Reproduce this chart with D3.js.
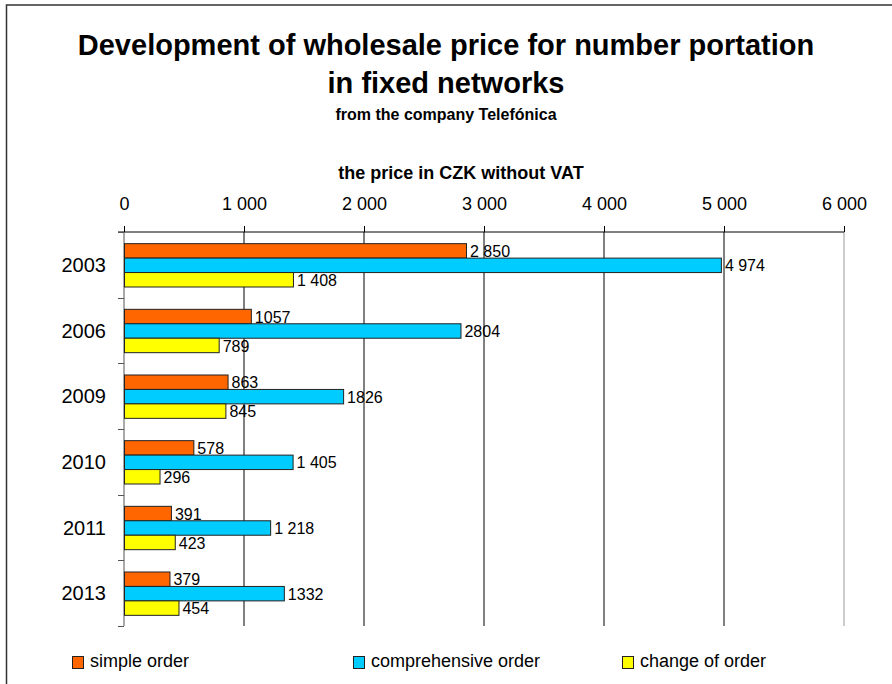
<!DOCTYPE html>
<html>
<head>
<meta charset="utf-8">
<script src="https://cdn.jsdelivr.net/npm/d3@7"></script>
<style>
  body { margin: 0; background: #fff; }
  svg { font-family: Arial, 'Liberation Sans', sans-serif; }
</style>
</head>
<body>
<svg id="chart"></svg>
<script>
//chart data
var years = ['2003', '2006', '2009', '2010', '2011', '2013'];
var seriesNames = ['simple order', 'comprehensive order', 'change of order'];
var simpleOrder = [2850, 1057, 863, 578, 391, 379];
var comprehensiveOrder = [4974, 2804, 1826, 1405, 1218, 1332];
var changeOfOrder = [1408, 789, 845, 296, 423, 454];
//value labels as printed in the picture
var simpleLabels = ['2 850', '1057', '863', '578', '391', '379'];
var comprehensiveLabels = ['4 974', '2804', '1826', '1 405', '1 218', '1332'];
var changeLabels = ['1 408', '789', '845', '296', '423', '454'];
var xTicks = [0, 1000, 2000, 3000, 4000, 5000, 6000];

function priceChart() {
    var svg = d3.select('#chart')
        .attr('width', 892)
        .attr('height', 684);

    var colors = ['#FF6600', '#00CCFF', '#FFFF00'];
    var values = [simpleOrder, comprehensiveOrder, changeOfOrder];
    var labels = [simpleLabels, comprehensiveLabels, changeLabels];

    //outer frame
    svg.append('path')
        .attr('d', 'M6.5,700 L6.5,5 L900,5')
        .attr('fill', 'none')
        .attr('stroke', '#333')
        .attr('stroke-width', 1.5);

    //titles
    var titles = svg.append('g').attr('text-anchor', 'middle').attr('font-weight', 'bold');
    titles.append('text').attr('x', 446).attr('y', 55).attr('font-size', 29)
        .text('Development of wholesale price for number portation');
    titles.append('text').attr('x', 446).attr('y', 93).attr('font-size', 29)
        .text('in fixed networks');
    titles.append('text').attr('x', 446).attr('y', 120).attr('font-size', 16)
        .text('from the company Telefónica');
    titles.append('text').attr('x', 461).attr('y', 179).attr('font-size', 18)
        .text('the price in CZK without VAT');

    var margin = {top: 232, left: 124},
        width = 720,
        height = 394;

    var canvas = svg.append('g')
        .attr('transform', 'translate(' + margin.left + ',' + margin.top + ')');

    var x = d3.scaleLinear().domain([0, 6000]).range([0, width]);
    var y = d3.scaleBand().domain(years).range([0, height])
        .paddingInner(0.34).paddingOuter(0.17);
    var ySub = d3.scaleBand().domain(d3.range(3)).range([0, y.bandwidth()]);

    var locale = d3.formatLocale({decimal: ',', thousands: ' ', grouping: [3], currency: ['', '']});
    var fmt = locale.format(',');

    //gridlines
    canvas.append('g')
        .selectAll('line').data(xTicks.slice(1)).enter().append('line')
            .attr('x1', d => x(d)).attr('x2', d => x(d))
            .attr('y1', 0).attr('y2', height)
            .attr('stroke', d => d === 6000 ? '#999' : '#000')
            .attr('stroke-width', 1);

    //top axis
    var xAxis = canvas.append('g')
        .call(d3.axisTop(x).tickValues(xTicks).tickFormat(fmt).tickSize(6).tickPadding(16));
    xAxis.select('.domain').attr('stroke', '#000').attr('d', 'M-6,0H' + width);
    xAxis.selectAll('text').attr('font-size', 18).attr('font-family', null).attr('fill', '#000');

    //left axis with category ticks between bands
    canvas.append('line')
        .attr('x1', 0).attr('x2', 0).attr('y1', 0).attr('y2', height)
        .attr('stroke', '#555');
    canvas.append('g')
        .selectAll('line').data(d3.range(years.length + 1)).enter().append('line')
            .attr('x1', -6).attr('x2', 0)
            .attr('y1', d => Math.round(d * y.step()) + 0.5)
            .attr('y2', d => Math.round(d * y.step()) + 0.5)
            .attr('stroke', '#555');

    canvas.append('g')
        .selectAll('text').data(years).enter().append('text')
            .attr('x', -18)
            .attr('y', d => y(d) + y.bandwidth() / 2)
            .attr('dy', '0.35em')
            .attr('text-anchor', 'end')
            .attr('font-size', 20)
            .text(d => d);

    //bars
    var groups = canvas.append('g')
        .selectAll('g').data(years).enter().append('g')
            .attr('transform', d => 'translate(0,' + y(d) + ')');

    groups.selectAll('rect')
        .data((d, i) => values.map((s, k) => ({k: k, v: s[i]})))
        .enter().append('rect')
            .attr('x', 0.5)
            .attr('y', d => ySub(d.k) + 0.5)
            .attr('width', d => x(d.v))
            .attr('height', ySub.bandwidth())
            .attr('fill', d => colors[d.k])
            .attr('stroke', '#222')
            .attr('stroke-width', 1);

    groups.selectAll('text')
        .data((d, i) => values.map((s, k) => ({k: k, v: s[i], t: labels[k][i]})))
        .enter().append('text')
            .attr('x', d => x(d.v) + 4)
            .attr('y', d => ySub(d.k) + ySub.bandwidth() / 2 + 1)
            .attr('dy', '0.35em')
            .attr('font-size', 16)
            .text(d => d.t);

    //legend
    var legendX = [72, 353, 622];
    var legend = svg.append('g')
        .selectAll('g').data(seriesNames).enter().append('g')
            .attr('transform', (d, i) => 'translate(' + legendX[i] + ',656)');
    legend.append('rect')
        .attr('x', 0.5).attr('y', 0.5)
        .attr('width', 11).attr('height', 12)
        .attr('fill', (d, i) => colors[i])
        .attr('stroke', '#222');
    legend.append('text')
        .attr('x', 18).attr('y', 11)
        .attr('font-size', 18)
        .text(d => d);
}

priceChart();
</script>
</body>
</html>
